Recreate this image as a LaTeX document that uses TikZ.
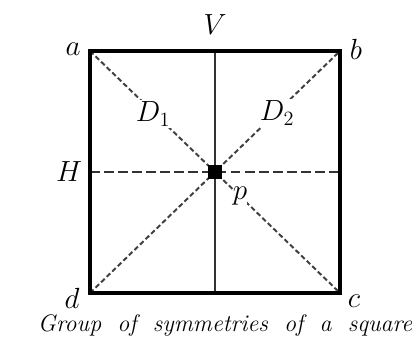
\documentclass[tikz,border=0pt]{standalone}
\usepackage{tikz}
\usetikzlibrary{positioning,calc}
\begin{document}
\begin{tikzpicture}[x=0.025cm, y=-0.025cm,
  lbl/.style={font=\fontsize{21}{24}\selectfont, inner sep=1pt},
  diag/.style={dash pattern=on 3.5pt off 2pt, line width=1.4pt, black!75},
  axis/.style={line width=1.4pt, black!80}]
\useasboundingbox (0,0) rectangle (417,344);
\coordinate (a) at (90,51); \coordinate (b) at (340,51);
\coordinate (c) at (340,293); \coordinate (d) at (90,293);
\coordinate (o) at (215,172);
\draw[diag] (a) -- (c); \draw[diag] (d) -- (b);
\draw[axis] (o |- a) -- (o |- d);
\draw[axis, dash pattern=on 7pt off 3pt] (o -| a) -- (o -| b);
\draw[line width=2.2pt] (a) -- (b) -- (c) -- (d) -- cycle;
\node[lbl] (la) at (73,49) {$a$};
\node[lbl] (lb) at (356,49) {$b$};
\node[lbl] (lc) at (354,301) {$c$};
\node[lbl] (ld) at (72,298) {$d$};
\node[lbl] (lv) at (215,25) {$V$};
\node[lbl] (lh) at (69,172) {$H$};
\node[lbl, fill=white] (d1) at (153,114) {$D_1$};
\node[lbl, fill=white] (d2) at (277,113) {$D_2$};
\node[lbl, fill=white, inner sep=0pt] (lp) at (240,196) {$p$};
\node[fill=black, minimum size=0.36cm, inner sep=0pt] (dot) at (o) {};
\node[anchor=base, inner sep=0pt, font=\fontsize{17}{20}\selectfont\itshape] (cap) at (225,331)
  {\makebox[9.35cm][s]{Group of symmetries of a square}};
\end{tikzpicture}
\end{document}
